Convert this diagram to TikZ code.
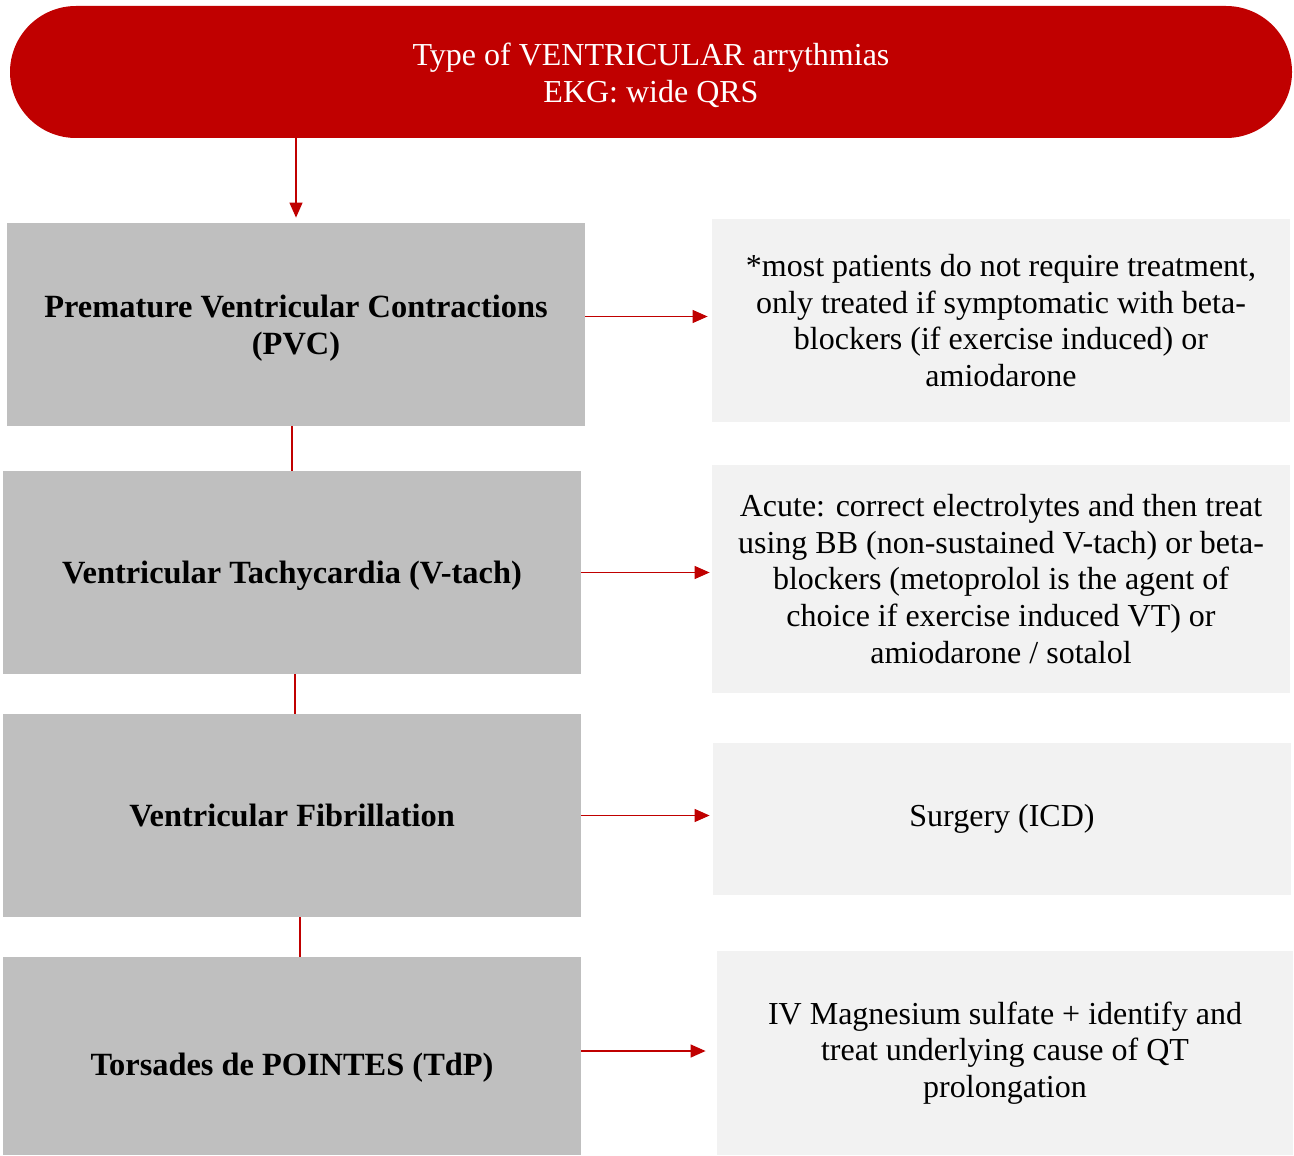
\documentclass[tikz,border=0pt]{standalone}
\usepackage{fontspec}
\setmainfont{Liberation Serif}
\usetikzlibrary{arrows.meta,positioning}
\definecolor{ekgred}{HTML}{C00000}
\definecolor{typegray}{HTML}{BFBFBF}
\definecolor{treatgray}{HTML}{F2F2F2}

\begin{document}
\begin{tikzpicture}[x=0.5pt, y=-0.5pt,
  font=\fontsize{16}{18.4}\selectfont,
  header/.style={fill=ekgred, text=white, rounded corners=33pt, minimum width=641pt, minimum height=66pt, align=center, inner sep=0pt, text height=33pt},
  typebox/.style={fill=typegray, minimum width=289pt, minimum height=101.5pt, align=center, inner sep=0pt, text depth=0pt, font=\fontsize{16.2}{18.4}\selectfont\bfseries},
  treatbox/.style={fill=treatgray, minimum width=289pt, minimum height=101.5pt, align=center, inner sep=0pt},
  link/.style={ekgred, line width=0.6pt},
  arrow/.style={link, -{Triangle[length=7.5pt, width=6.5pt]}}]
  \useasboundingbox (0,0) rectangle (1294,1155);

  % header
  \node[header] (top) at (651,72) {Type of VENTRICULAR arrythmias\\EKG: wide QRS};

  % types of arrythmia
  \node[typebox] (pvc) at (296,324.5) {Premature Ventricular Contractions\\(PVC)};
  \node[typebox] (vtach) at (292,572.5) {Ventricular Tachycardia (V-tach)};
  \node[typebox] (vf) at (292,815.5) {Ventricular Fibrillation};
  \node[typebox, minimum height=99pt, text height=19pt] (tdp) at (292,1056) {Torsades de POINTES (TdP)};

  % treatments
  \node[treatbox] (pvctx) at (1001,320.5) {*most patients do not require treatment,\\only treated if symptomatic with beta-\\blockers (if exercise induced) or\\amiodarone};
  \node[treatbox, minimum height=114pt] (vtachtx) at (1001,579) {Acute: correct electrolytes and then treat\\using BB (non-sustained V-tach) or beta-\\blockers (metoprolol is the agent of\\choice if exercise induced VT) or\\amiodarone / sotalol};
  \node[treatbox, minimum height=76pt] (vftx) at (1002,819) {Surgery (ICD)};
  \node[treatbox, minimum width=288pt, minimum height=102pt] (tdptx) at (1005,1053) {IV Magnesium sulfate + identify and\\treat underlying cause of QT\\prolongation};

  % connectors
  \draw[arrow, shorten >=2.5pt] (top.south -| pvc.north) -- (pvc.north);
  \draw[link] (pvc.south -| vtach.north) -- (vtach.north);
  \draw[link] ([xshift=1.5pt]vtach.south) -- ([xshift=1.5pt]vf.north);
  \draw[link] ([xshift=4pt]vf.south) -- ([xshift=4pt]tdp.north);

  \draw[arrow, shorten >=2pt] ([yshift=4pt]pvc.east) -- ([yshift=4pt]pvc.east -| pvctx.west);
  \draw[arrow, shorten >=1pt] (vtach.east) -- (vtach.east -| vtachtx.west);
  \draw[arrow, shorten >=1.5pt] (vf.east) -- (vf.east -| vftx.west);
  \draw[arrow, shorten >=5.5pt] ([yshift=2.5pt]tdp.east) -- ([yshift=2.5pt]tdp.east -| tdptx.west);
\end{tikzpicture}
\end{document}
